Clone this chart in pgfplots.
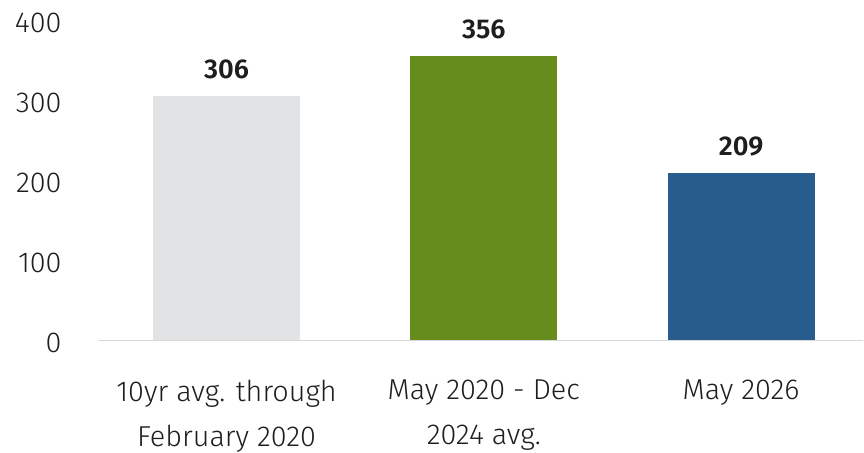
\documentclass[border=0pt]{standalone}
\usepackage{fontspec}
\setmainfont{Fira Sans}[UprightFont=* Light, BoldFont=* SemiBold]
\usepackage{pgfplots}
\pgfplotsset{compat=1.18}
\definecolor{cgray}{HTML}{E2E3E5}
\definecolor{cgreen}{HTML}{668C1E}
\definecolor{cblue}{HTML}{285C8C}
\definecolor{ctext}{HTML}{1E1E1E}
\definecolor{cline}{HTML}{D9D9D9}
\begin{document}
\begin{tikzpicture}
\begin{axis}[
  scale only axis, width=383pt, height=160pt,
  xmin=-0.5, xmax=2.475, ymin=0, ymax=400,
  axis line style={draw=none}, axis x line*=bottom, axis y line*=left,
  ytick={0,100,200,300,400}, major tick length=0pt,
  xtick={0,1,2},
  xticklabels={{10yr avg. through\\February 2020},{May 2020 - Dec\\2024 avg.},{May 2026}},
  xticklabel style={align=center, font=\fontsize{14.4}{22.5}\selectfont, text=ctext, anchor=north, inner sep=0pt, yshift=-19.6pt},
  yticklabel style={font=\fontsize{14.4}{17}\selectfont, text=ctext, anchor=east, inner sep=0pt, xshift=-18pt, yshift=-1.4pt},
  /pgf/number format/assume math mode=true,
  ybar, bar width=73.5pt, bar shift=0pt,
  nodes near coords, clip=false,
  every node near coord/.append style={font=\fontsize{13.6}{16}\selectfont\bfseries, text=ctext, yshift=5pt},
]
\draw[cline, line width=0.7pt] (axis cs:-0.5,0) -- (axis cs:2.475,0);
\addplot[fill=cgray, draw=none] coordinates {(0,306)};
\addplot[fill=cgreen, draw=none] coordinates {(1,356)};
\addplot[fill=cblue, draw=none] coordinates {(2,209)};
\end{axis}
\path[use as bounding box] (-49pt,-55.75pt) rectangle (383pt,170.25pt);
\end{tikzpicture}
\end{document}
